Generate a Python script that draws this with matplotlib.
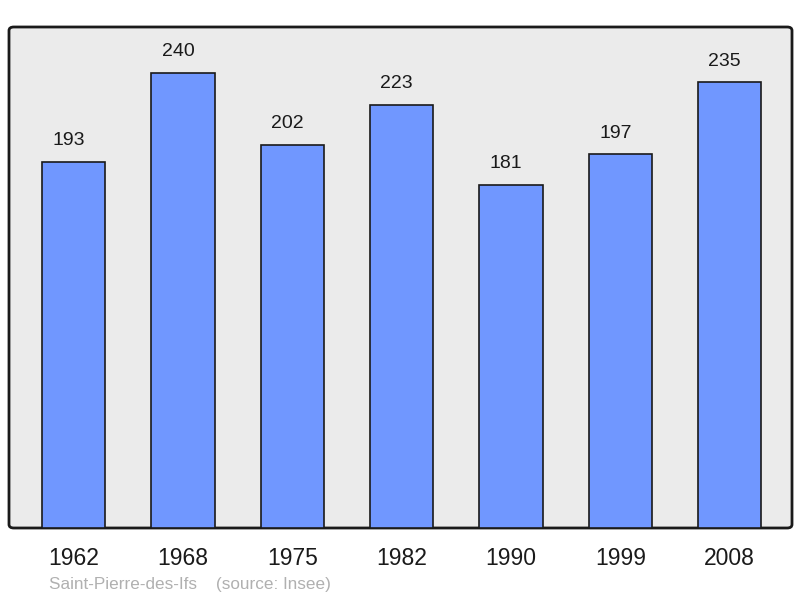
import matplotlib
matplotlib.use('Agg')
import matplotlib.pyplot as plt
from matplotlib.patches import FancyBboxPatch

years = ['1962', '1968', '1975', '1982', '1990', '1999', '2008']
population = [193, 240, 202, 223, 181, 197, 235]

plt.rcParams['font.family'] = ['Liberation Sans', 'DejaVu Sans']

W, H = 800, 598
fig = plt.figure(figsize=(W / 100, H / 100), dpi=100)

# plot area in pixels
x0, x1, y0, y1 = 9, 792, 27, 528
ax = fig.add_axes([x0 / W, 1 - y1 / H, (x1 - x0) / W, (y1 - y0) / H])
ax.set_facecolor('none')
for s in ax.spines.values():
    s.set_visible(False)

# rounded background frame, drawn behind the axes
bg = FancyBboxPatch((x0 / W, 1 - y1 / H), (x1 - x0) / W, (y1 - y0) / H,
                    boxstyle='round,pad=0,rounding_size=0.006',
                    transform=fig.transFigure, facecolor='#ebebeb',
                    edgecolor='#1a1a1a', linewidth=2, zorder=-1)
fig.patches.append(bg)

xs = list(range(len(years)))
ax.bar(xs, population, width=0.58, color='#7097ff', edgecolor='#1a1a1a',
       linewidth=1.2, zorder=2)

# value labels sit slightly left of bar centre in the original
for x, v in zip(xs, population):
    ax.annotate(str(v), (x, v), xytext=(-3.5, 9), textcoords='offset points',
                ha='center', va='bottom', fontsize=14, color='#1a1a1a')

ax.set_xlim(-0.59, 6.57)
ax.set_ylim(0, 264)
ax.set_yticks([])
ax.set_xticks(xs)
ax.set_xticklabels(years, fontsize=16.5, color='#1a1a1a')
ax.tick_params(axis='x', length=0, pad=13.5)

fig.text(49 / W, 1 - 585 / H, 'Saint-Pierre-des-Ifs    (source: Insee)',
         fontsize=12.3, color='#b0b0b0', ha='left', va='center')

fig.savefig('out.png', dpi=100)
